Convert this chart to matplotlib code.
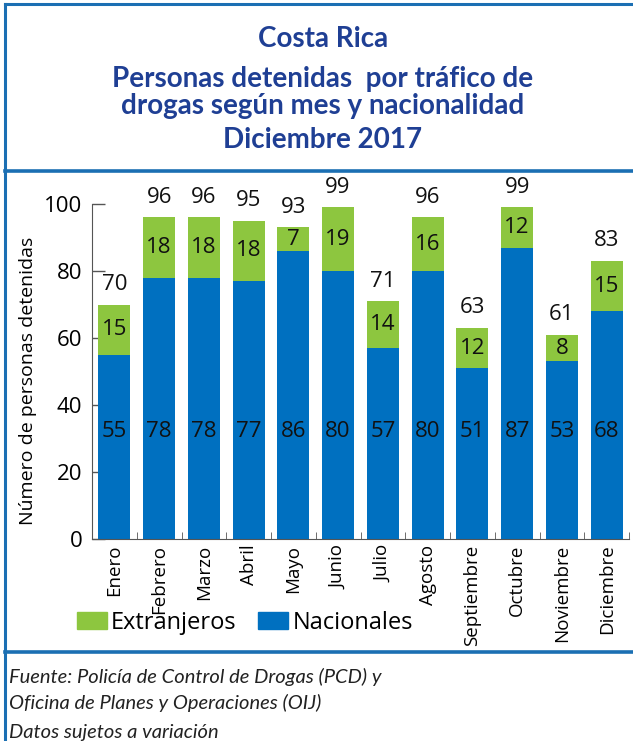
import numpy as np
import matplotlib.pyplot as plt
from matplotlib.lines import Line2D
from matplotlib.patches import Patch

# Datos del gráfico
meses = ['Enero', 'Febrero', 'Marzo', 'Abril', 'Mayo', 'Junio', 'Julio',
         'Agosto', 'Septiembre', 'Octubre', 'Noviembre', 'Diciembre']
nacionales = [55, 78, 78, 77, 86, 80, 57, 80, 51, 87, 53, 68]
extranjeros = [15, 18, 18, 18, 7, 19, 14, 16, 12, 12, 8, 15]
yticks = [0, 20, 40, 60, 80, 100]

# Colores
azul = '#0070c0'
verde = '#8dc63f'
azul_titulo = '#1f3f94'
azul_borde = '#1b6fb3'

plt.rcParams['font.family'] = ['Open Sans', 'DejaVu Sans']

W, H = 633, 741
fig = plt.figure(figsize=(W / 100, H / 100), dpi=100)
ax = fig.add_axes([92 / W, 1 - 539 / H, (629 - 92) / W, (539 - 204) / H])

x = np.arange(len(meses))
nac = np.array(nacionales)
ext = np.array(extranjeros)
total = nac + ext

ax.bar(x, nac, width=0.72, color=azul, zorder=2)
ax.bar(x, ext, width=0.72, bottom=nac, color=verde, zorder=2)

fs = 16
for i in range(len(meses)):
    ax.text(x[i], 32, str(nac[i]), ha='center', va='center', fontsize=fs, color='#111111')
    ax.text(x[i], nac[i] + ext[i] / 2, str(ext[i]), ha='center', va='center',
            fontsize=fs, color='#111111')
    ax.text(x[i], total[i] + 6, str(total[i]), ha='center', va='center',
            fontsize=fs, color='#111111', clip_on=False)

ax.set_xlim(-0.5, len(meses) - 0.5)
ax.set_ylim(0, 100)
ax.set_yticks(yticks)
ax.tick_params(axis='y', direction='in', length=9, width=1, color='#555555',
               labelsize=fs, pad=7)
ax.set_xticks(x)
ax.set_xticklabels(meses, rotation=90, fontsize=13.5)
ax.tick_params(axis='x', which='major', length=0, pad=4)
ax.set_xticks(np.arange(len(meses) + 1) - 0.5, minor=True)
ax.tick_params(axis='x', which='minor', direction='in', length=5, color='#555555')
for s in ['top', 'right']:
    ax.spines[s].set_visible(False)
for s in ['left', 'bottom']:
    ax.spines[s].set_color('#555555')
ax.set_ylabel('Número de personas detenidas', fontsize=14, va='center')
ax.yaxis.set_label_coords((28 - 92) / 537, (539 - 381) / 335)

# Leyenda
handles = [Patch(color=verde, label='Extranjeros'), Patch(color=azul, label='Nacionales')]
fig.legend(handles=handles, loc='center left', bbox_to_anchor=(77 / W, 1 - 623 / H),
           ncol=2, frameon=False, fontsize=17, handlelength=1.25, handleheight=0.75,
           handletextpad=0.2, columnspacing=0.9, borderaxespad=0, borderpad=0)

# Título
titulo_kw = dict(ha='center', va='baseline', fontsize=20, fontweight='bold',
                 color=azul_titulo, family=['Lato', 'DejaVu Sans'])
xc = 323 / W
fig.text(xc, 1 - 47 / H, 'Costa Rica', **titulo_kw)
fig.text(xc, 1 - 87 / H, 'Personas detenidas  por tráfico de', **titulo_kw)
fig.text(xc, 1 - 114 / H, 'drogas según mes y nacionalidad', **titulo_kw)
fig.text(xc, 1 - 148 / H, 'Diciembre 2017', **titulo_kw)

# Fuente
pie_kw = dict(ha='left', va='baseline', fontsize=14.5, style='italic', color='#222222',
              family=['Lato', 'DejaVu Sans'])
fig.text(9 / W, 1 - 683 / H, 'Fuente: Policía de Control de Drogas (PCD) y', **pie_kw)
fig.text(9 / W, 1 - 709 / H, 'Oficina de Planes y Operaciones (OIJ)', **pie_kw)
fig.text(9 / W, 1 - 738 / H, 'Datos sujetos a variación', **pie_kw)

# Marcos
def linea(x0, y0, x1, y1, w):
    fig.add_artist(Line2D([x0 / W, x1 / W], [1 - y0 / H, 1 - y1 / H],
                          color=azul_borde, linewidth=w, transform=fig.transFigure))

linea(5, 4, W, 4, 2.2)
linea(5, 4, 5, H, 2.2)
linea(5, 171, W, 171, 2.6)
linea(5, 652, W, 652, 2.6)

fig.savefig('out.png', dpi=100)
